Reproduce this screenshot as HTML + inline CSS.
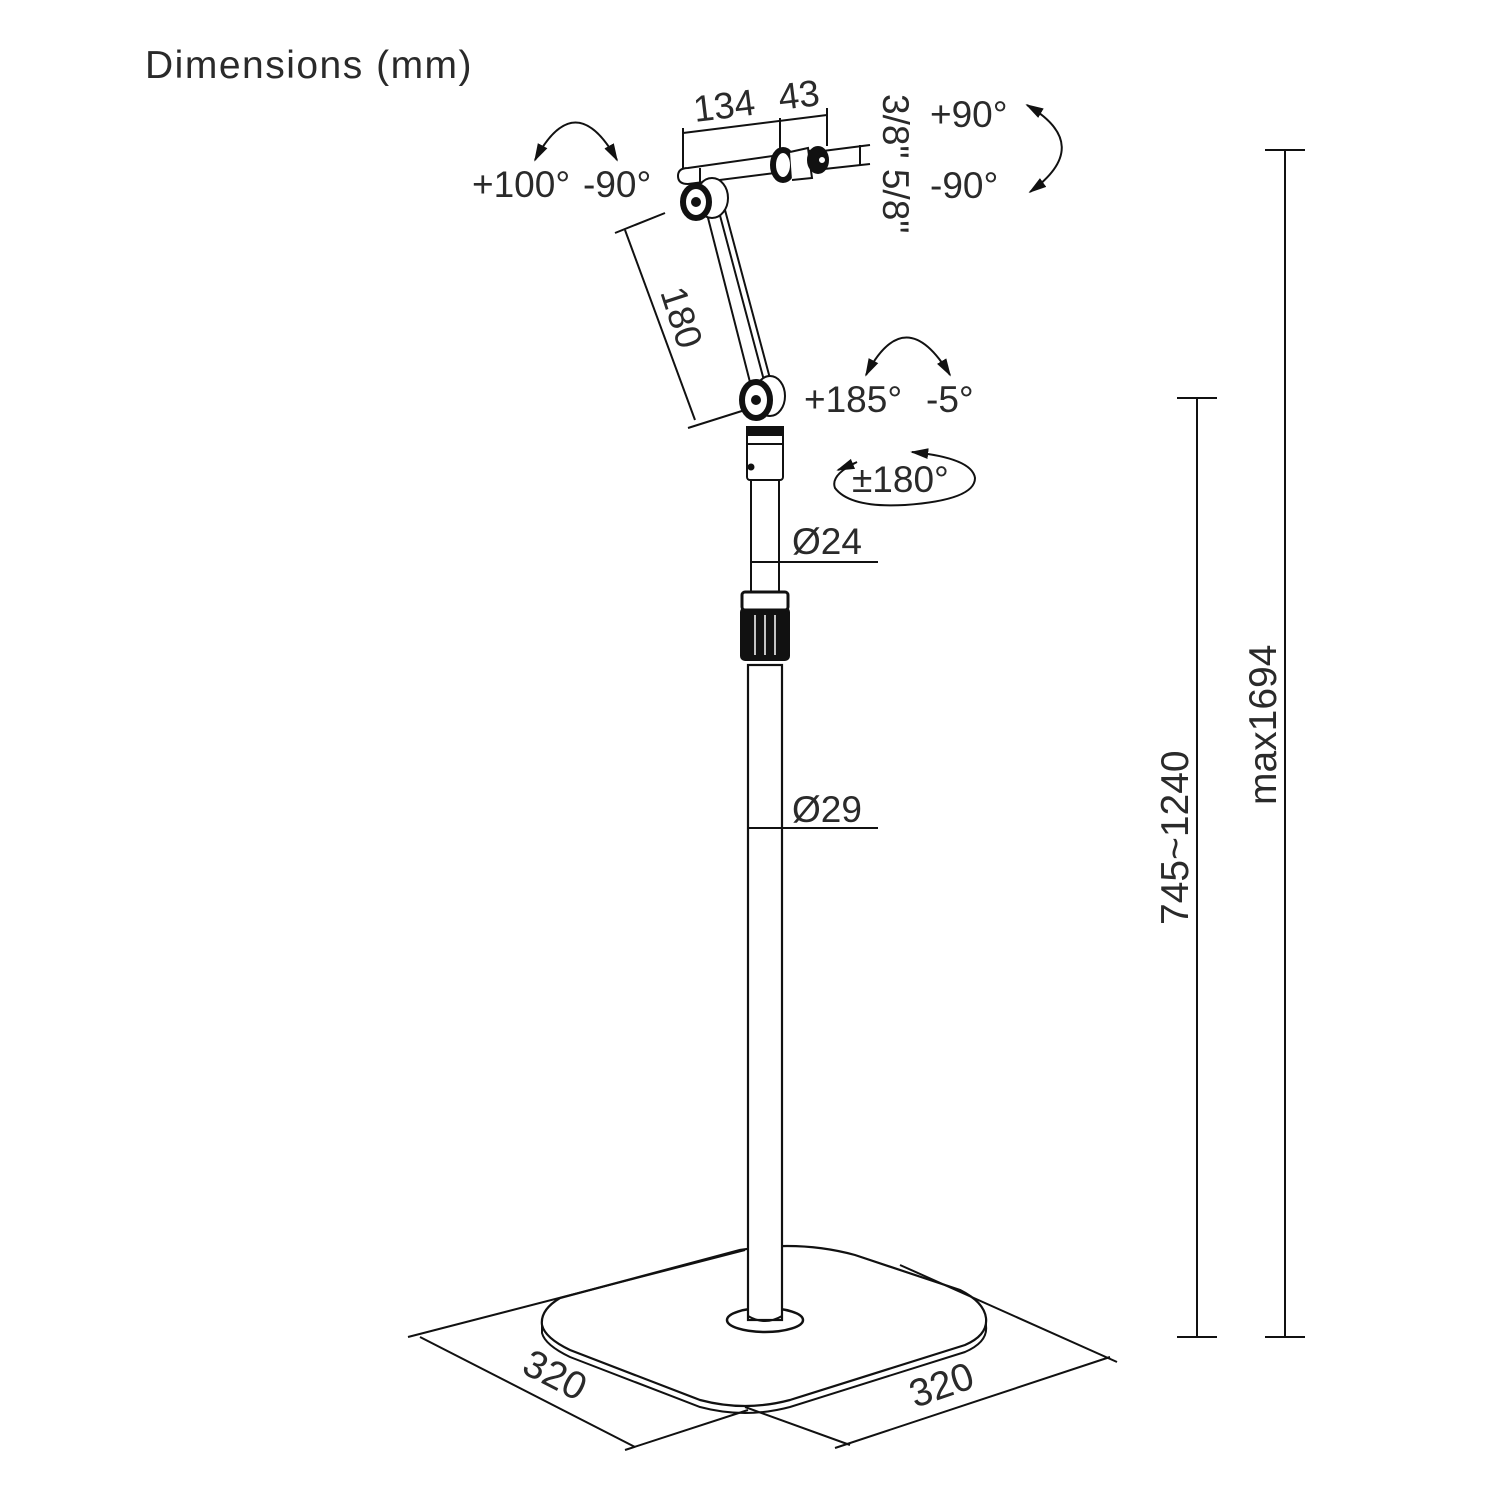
<!DOCTYPE html>
<html><head><meta charset="utf-8"><style>
html,body{margin:0;padding:0;background:#fff;}
svg{display:block;}
text{font-family:"Liberation Sans",sans-serif;fill:#2a2a2a;}
</style></head><body>
<svg width="1500" height="1500" viewBox="0 0 1500 1500" xmlns="http://www.w3.org/2000/svg">
<defs>
<marker id="ah" viewBox="0 0 10 10" refX="9" refY="5" markerWidth="9" markerHeight="9" orient="auto-start-reverse"><path d="M0,2 L10,5 L0,8 Z" fill="#111"/></marker>
</defs>
<text x="145" y="78" font-size="39" letter-spacing="1.5">Dimensions (mm)</text>

<g stroke="#111" stroke-width="2" fill="none">
<line x1="1285" y1="150" x2="1285" y2="1337"/>
<line x1="1265" y1="150" x2="1305" y2="150"/>
<line x1="1265" y1="1337" x2="1305" y2="1337"/>
<line x1="1197" y1="398" x2="1197" y2="1337"/>
<line x1="1177" y1="398" x2="1217" y2="398"/>
<line x1="1177" y1="1337" x2="1217" y2="1337"/>

<path d="M560,1298 Q540,1310 542,1325 Q545,1338 570,1350 L700,1400 Q745,1412 790,1400 L965,1345 Q988,1335 986,1318 Q984,1302 960,1290 L855,1255 Q800,1240 740,1250 Z" fill="#fff" stroke-width="2.2"/>
<path d="M542,1325 L542,1333 Q545,1345 570,1357 L700,1407 Q745,1419 790,1407 L965,1352 Q988,1342 986,1326 L986,1318" />
<ellipse cx="765" cy="1320" rx="38" ry="12" stroke-width="2.5"/>
<rect x="748" y="665" width="34" height="655" fill="#fff" stroke-width="2.2"/>
<path d="M748,1316 Q765,1326 782,1316" />
<rect x="751" y="480" width="28" height="115" fill="#fff"/>
<rect x="741" y="608" width="48" height="52" rx="4" fill="#111"/>
<rect x="742" y="592" width="46" height="18" rx="3" fill="#fff" stroke-width="3"/>
<line x1="755" y1="615" x2="755" y2="655" stroke="#fff" stroke-width="1.5"/>
<line x1="765" y1="615" x2="765" y2="655" stroke="#fff" stroke-width="1.5"/>
<line x1="775" y1="615" x2="775" y2="655" stroke="#fff" stroke-width="1.5"/>
<rect x="747" y="427" width="36" height="53" rx="3" fill="#fff"/>
<rect x="747" y="427" width="36" height="8" fill="#111"/>
<line x1="747" y1="444" x2="783" y2="444"/>
<circle cx="751" cy="467" r="2.5" fill="#111"/>

<line x1="751" y1="562" x2="878" y2="562"/>
<line x1="748" y1="828" x2="878" y2="828"/>

<line x1="706" y1="210" x2="752" y2="390"/>
<line x1="718" y1="208" x2="766" y2="388"/>
<line x1="725" y1="210" x2="772" y2="386"/>
<ellipse cx="770" cy="396" rx="15" ry="20" fill="#fff"/>
<ellipse cx="756" cy="400" rx="14" ry="18" fill="#fff" stroke-width="6"/>
<circle cx="756" cy="400" r="4" fill="#111"/>
<path d="M688,168 L815,150 L815,168 L688,184 Q678,184 678,176 Q678,168 688,168 Z" fill="#fff"/>
<line x1="700" y1="168" x2="700" y2="184"/>
<line x1="815" y1="152" x2="870" y2="145"/>
<line x1="815" y1="170" x2="870" y2="164"/>
<line x1="860" y1="145" x2="860" y2="165"/>
<ellipse cx="783" cy="165" rx="10" ry="15" fill="#fff" stroke-width="6"/>
<path d="M790,152 L808,148 L812,178 L792,180" fill="#fff"/>
<ellipse cx="818" cy="160" rx="10" ry="13" fill="#111"/>
<circle cx="822" cy="160" r="4" fill="#fff"/>
<ellipse cx="712" cy="198" rx="16" ry="20" fill="#fff"/>
<ellipse cx="696" cy="202" rx="13" ry="16" fill="#fff" stroke-width="6"/>
<circle cx="696" cy="202" r="4" fill="#111"/>

<line x1="683" y1="133" x2="827" y2="115"/>
<line x1="683" y1="128" x2="683" y2="168"/>
<line x1="780" y1="118" x2="780" y2="152"/>
<line x1="827" y1="108" x2="827" y2="146"/>
<line x1="625" y1="230" x2="695" y2="420"/>
<line x1="615" y1="233" x2="665" y2="213"/>
<line x1="688" y1="428" x2="745" y2="410"/>

<path d="M535,160 Q575,85 617,160" marker-start="url(#ah)" marker-end="url(#ah)"/>
<path d="M866,375 Q905,300 950,375" marker-start="url(#ah)" marker-end="url(#ah)"/>
<path d="M1027,105 Q1095,145 1030,192" marker-start="url(#ah)" marker-end="url(#ah)"/>
<path d="M857,462 Q830,475 835,488 Q850,508 905,505 Q975,500 975,478 Q972,458 912,452" marker-end="url(#ah)"/>
<path d="M855,463 L838,470" marker-end="url(#ah)"/>

<line x1="408" y1="1337" x2="745" y2="1250"/>
<line x1="420" y1="1337" x2="635" y2="1447"/>
<line x1="625" y1="1450" x2="748" y2="1410"/>
<line x1="745" y1="1407" x2="850" y2="1445"/>
<line x1="835" y1="1448" x2="1110" y2="1357"/>
<line x1="1117" y1="1362" x2="900" y2="1265"/>
</g>

<g font-size="37">
<text x="472" y="197">+100°</text>
<text x="583" y="197">-90°</text>
<text x="930" y="127">+90°</text>
<text x="930" y="198">-90°</text>
<text x="804" y="412">+185°</text>
<text x="926" y="412">-5°</text>
<text x="852" y="492">±180°</text>
<text x="792" y="554">Ø24</text>
<text x="792" y="822">Ø29</text>
<text transform="translate(695,122) rotate(-7)">134</text>
<text transform="translate(780,110) rotate(-7)">43</text>
<text transform="translate(883,94) rotate(90)">3/8" 5/8"</text>
<text transform="translate(660,292) rotate(72)">180</text>
<text transform="translate(1188,925) rotate(-90)" font-size="39">745~1240</text>
<text transform="translate(1276,805) rotate(-90)" font-size="39">max1694</text>
<text transform="translate(520,1372) rotate(27)" font-size="39">320</text>
<text transform="translate(915,1408) rotate(-19)" font-size="39">320</text>
</g>
</svg>
</body></html>
